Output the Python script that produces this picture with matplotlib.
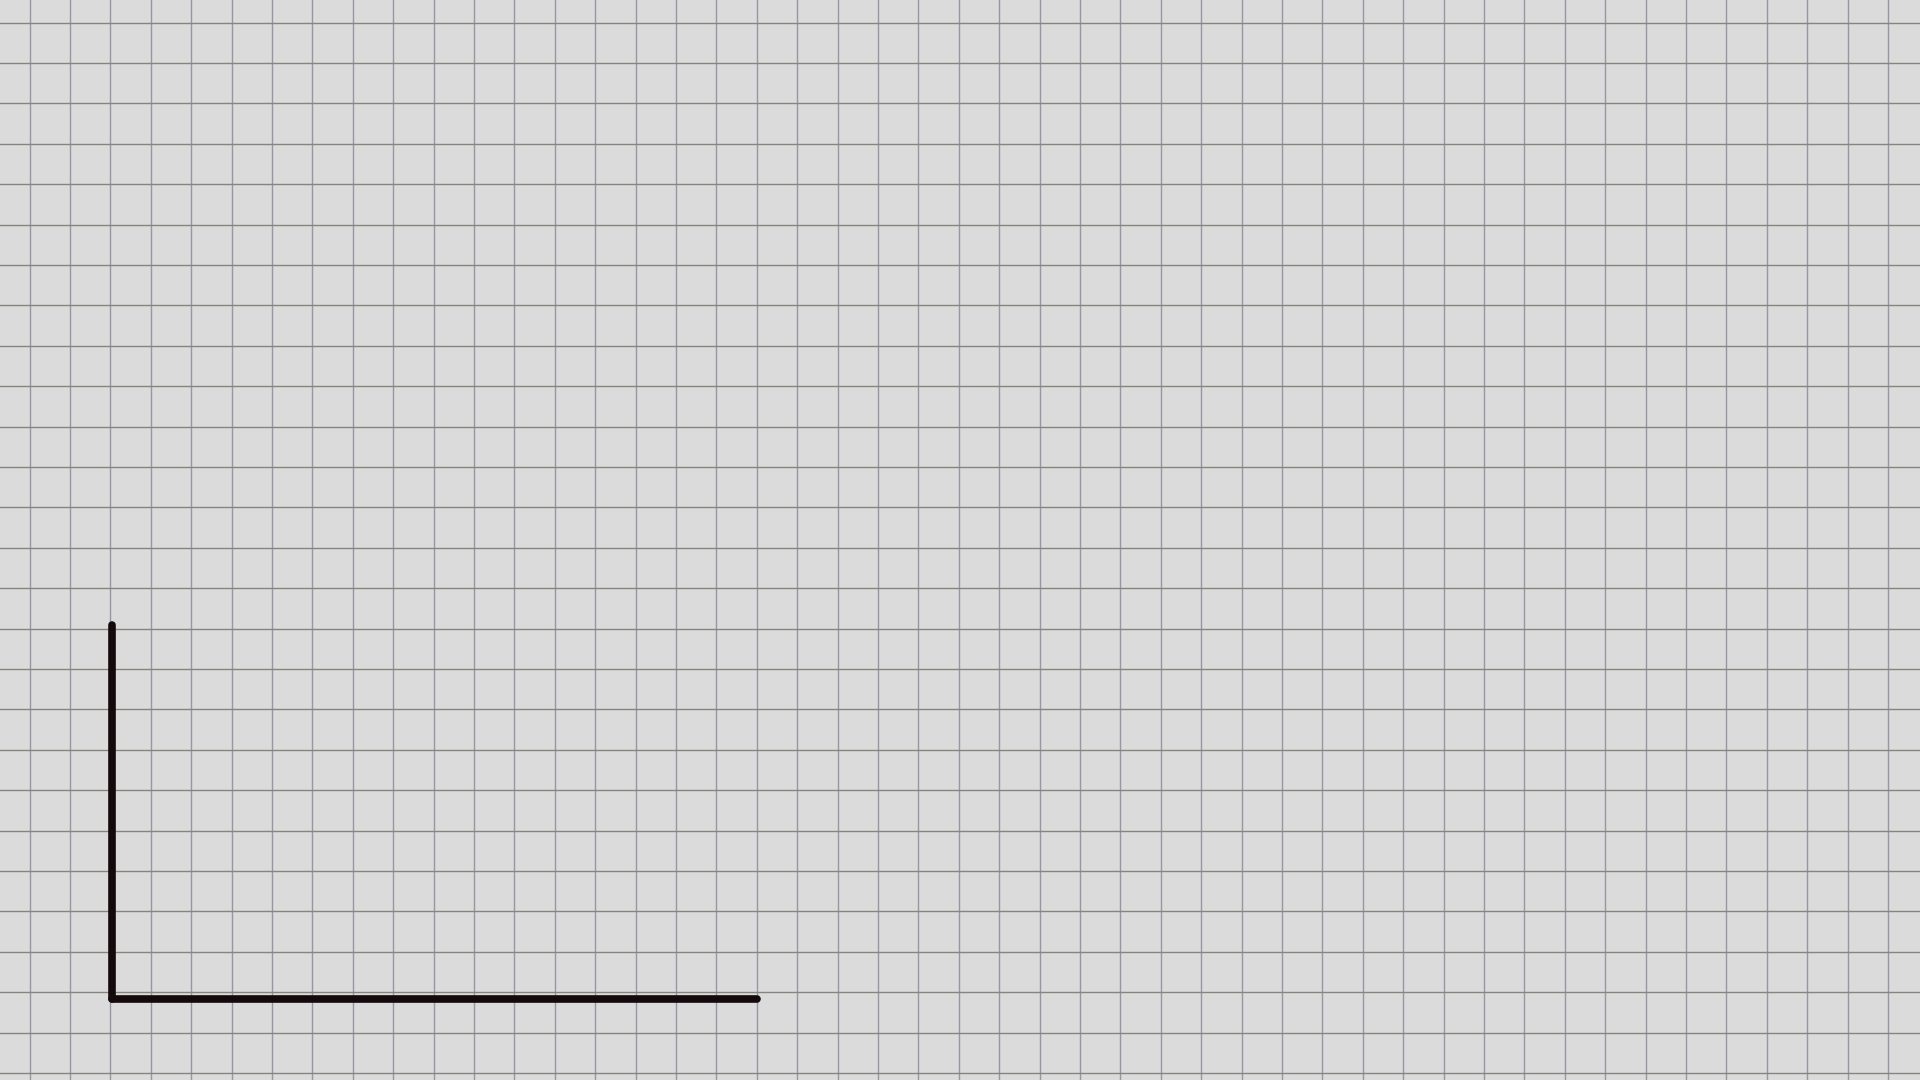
import numpy as np
import matplotlib
matplotlib.use("Agg")
import matplotlib.pyplot as plt

# empty chart: only the two axis lines on graph paper
W, H = 1920, 1080
CELL = 40.4          # graph-paper cell size (px)
X0, Y0 = 29.5, 22.7  # first grid line (px)

PAPER = "#dbdbdb"
GRID_V = "#9696a4"   # vertical rules, slightly bluish
GRID_H = "#85857f"   # horizontal rules, a touch darker
AXIS = "#140a0c"

fig = plt.figure(figsize=(19.2, 10.8), dpi=100, facecolor=PAPER)

# background graph paper
bg = fig.add_axes([0, 0, 1, 1], zorder=0)
bg.set_facecolor(PAPER)
bg.set_xlim(0, W); bg.set_ylim(H, 0)
bg.set_xticks(np.arange(X0, W, CELL))
bg.set_yticks(np.arange(Y0, H, CELL))
bg.tick_params(length=0, labelbottom=False, labelleft=False)
bg.xaxis.grid(True, color=GRID_V, linewidth=1.0)
bg.yaxis.grid(True, color=GRID_H, linewidth=1.0)
for sp in bg.spines.values():
    sp.set_visible(False)

# the (empty) plot area: left + bottom axis lines
left, right, top, bottom = 111.7, 757, 625, 999
ax = fig.add_axes([left / W, 1 - bottom / H, (right - left) / W, (bottom - top) / H], zorder=1)
ax.patch.set_alpha(0)
ax.set_xticks([]); ax.set_yticks([])
for sp in ("top", "right"):
    ax.spines[sp].set_visible(False)
for sp in ("left", "bottom"):
    ax.spines[sp].set_color(AXIS)
    ax.spines[sp].set_linewidth(5.5)
    ax.spines[sp].set_capstyle("round")

fig.savefig("out.png", dpi=100, facecolor=PAPER)
